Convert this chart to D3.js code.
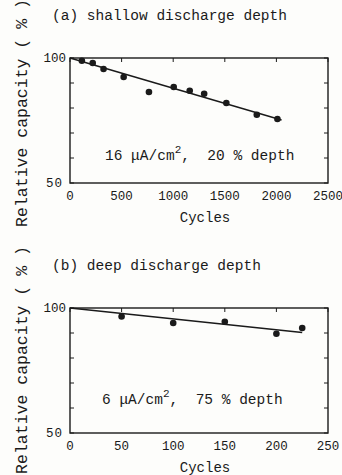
<!DOCTYPE html>
<html>
<head>
<meta charset="utf-8">
<script src="https://cdn.jsdelivr.net/npm/d3@7"></script>
<style>
  body { margin: 0; background: #fdfdfb; }
  text { font-family: "Liberation Mono", "DejaVu Sans Mono", monospace; fill: #1a1a1a; white-space: pre; }
</style>
</head>
<body>
<div id="chart"></div>
<script>
// panel (a): shallow discharge depth
var cyclesA = [115, 220, 325, 520, 765, 1005, 1160, 1300, 1515, 1810, 2010];
var capA = [98.9, 98.0, 95.6, 92.4, 86.4, 88.4, 86.9, 85.7, 82.0, 77.3, 75.6];
var fitCyclesA = [0, 2050];
var fitCapA = [100, 75.2];
var xTicksA = [0, 500, 1000, 1500, 2000, 2500];

// panel (b): deep discharge depth
var cyclesB = [50, 100, 150, 200, 225];
var capB = [96.6, 94.0, 94.5, 89.7, 92.0];
var fitCyclesB = [0, 225];
var fitCapB = [100, 90.2];
var xTicksB = [0, 50, 100, 150, 200, 250];

var yTicks = [50, 60, 70, 80, 90, 100];
var yTickLabels = [50, 100];

var W = 342, H = 475;
var svg = d3.select("#chart").append("svg")
    .attr("width", W)
    .attr("height", H);

drawPanel({
    top: 58,
    title: "(a) shallow discharge depth",
    cycles: cyclesA, cap: capA,
    fitCycles: fitCyclesA, fitCap: fitCapA,
    xTicks: xTicksA,
    note: ["16 \u03bcA/cm", "2", ",  20 % depth"],
    noteX: 105, noteY: 160,
    labelCenter: 113
});

drawPanel({
    top: 308,
    title: "(b) deep discharge depth",
    cycles: cyclesB, cap: capB,
    fitCycles: fitCyclesB, fitCap: fitCapB,
    xTicks: xTicksB,
    note: ["6 \u03bcA/cm", "2", ",  75 % depth"],
    noteX: 102, noteY: 404,
    labelCenter: 360
});

function drawPanel(p) {
    var left = 70, width = 258, height = 125;

    var g = svg.append("g")
        .attr("transform", "translate(" + left + "," + p.top + ")");

    var x = d3.scaleLinear()
        .domain([p.xTicks[0], p.xTicks[p.xTicks.length - 1]])
        .range([0, width]);
    var y = d3.scaleLinear()
        .domain([50, 100])
        .range([height, 0]);

    // frame
    g.append("rect")
        .attr("width", width)
        .attr("height", height)
        .attr("fill", "none")
        .attr("stroke", "#1a1a1a")
        .attr("stroke-width", 1.4);

    // inward ticks, left / right / top
    g.selectAll(".ytl").data(yTicks).enter().append("line")
        .attr("x1", 0).attr("x2", 4)
        .attr("y1", d => y(d)).attr("y2", d => y(d))
        .attr("stroke", "#1a1a1a");
    g.selectAll(".ytr").data(yTicks).enter().append("line")
        .attr("x1", width - 4).attr("x2", width)
        .attr("y1", d => y(d)).attr("y2", d => y(d))
        .attr("stroke", "#1a1a1a");
    g.selectAll(".xtt").data(p.xTicks).enter().append("line")
        .attr("x1", d => x(d)).attr("x2", d => x(d))
        .attr("y1", 0).attr("y2", 4)
        .attr("stroke", "#1a1a1a");

    // tick labels
    g.selectAll(".xl").data(p.xTicks).enter().append("text")
        .attr("x", d => x(d))
        .attr("y", height + 17)
        .attr("text-anchor", "middle")
        .attr("font-size", 12.5)
        .text(d => d);
    g.selectAll(".yl").data(yTickLabels).enter().append("text")
        .attr("x", d => d == 50 ? -7 : -4)
        .attr("y", d => y(d) + 4)
        .attr("text-anchor", "end")
        .attr("font-size", 12.5)
        .attr("letter-spacing", d => d == 50 ? 1 : 0)
        .text(d => d);

    // axis titles
    g.append("text")
        .attr("x", x.range()[1] / 2 + 6)
        .attr("y", height + 39)
        .attr("text-anchor", "middle")
        .attr("font-size", 14)
        .text("Cycles");
    svg.append("text")
        .attr("transform", "translate(27," + p.labelCenter + ")rotate(-90)")
        .attr("text-anchor", "middle")
        .attr("font-size", 16.5)
        .text("Relative capacity ( % )");

    // panel title
    svg.append("text")
        .attr("x", 52)
        .attr("y", p.top - 38)
        .attr("font-size", 14.5)
        .text(p.title);

    // fitted line
    var line = d3.line()
        .x(d => x(d[0]))
        .y(d => y(d[1]));
    g.append("path")
        .datum(d3.zip(p.fitCycles, p.fitCap))
        .attr("d", line)
        .attr("fill", "none")
        .attr("stroke", "#1a1a1a")
        .attr("stroke-width", 1.4);

    // measured points
    g.selectAll(".pt").data(d3.zip(p.cycles, p.cap)).enter().append("circle")
        .attr("cx", d => x(d[0]))
        .attr("cy", d => y(d[1]))
        .attr("r", 3.3)
        .attr("fill", "#1a1a1a");

    // annotation
    var t = svg.append("text")
        .attr("x", p.noteX)
        .attr("y", p.noteY)
        .attr("font-size", 14.5);
    t.append("tspan").text(p.note[0]);
    t.append("tspan").attr("dy", -7).attr("font-size", 11).text(p.note[1]);
    t.append("tspan").attr("dy", 7).text(p.note[2]);
}
</script>
</body>
</html>
